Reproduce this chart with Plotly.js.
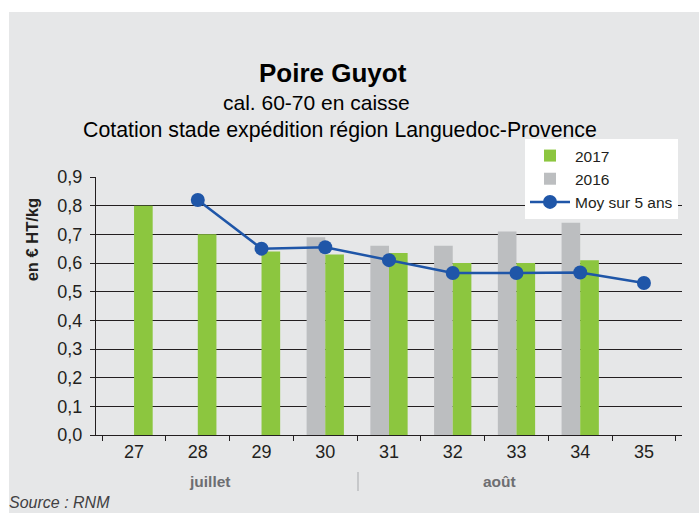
<!DOCTYPE html>
<html>
<head>
<meta charset="utf-8">
<script src="https://cdn.plot.ly/plotly-3.0.1.min.js"></script>
<style>
html,body{margin:0;padding:0;background:#ffffff;}
#bg{position:absolute;left:9px;top:12px;width:690px;height:501px;background:#e6e7e8;}
#chart{position:absolute;left:0;top:0;width:699px;height:513px;}
</style>
</head>
<body>
<div id="bg"></div>
<div id="chart"></div>
<script>
const weeks = ['27','28','29','30','31','32','33','34','35'];
const v2017 = [0.80, 0.70, 0.64, 0.63, 0.635, 0.60, 0.60, 0.61, null];
const v2016 = [null, null, null, 0.69, 0.66, 0.66, 0.71, 0.74, null];
const moy5 = [null, 0.82, 0.65, 0.655, 0.61, 0.565, 0.565, 0.567, 0.53];

const FONT = 'Liberation Sans, Arial, sans-serif';
const DARK = '#231f20';

const traces = [
  {type:'bar', name:'2016', x:weeks, y:v2016, marker:{color:'#bcbec0'}, legendrank:2, hoverinfo:'skip'},
  {type:'bar', name:'2017', x:weeks, y:v2017, marker:{color:'#8cc63f'}, legendrank:1, hoverinfo:'skip'},
  {type:'scatter', mode:'lines+markers', name:'Moy sur 5 ans', x:weeks, y:moy5,
   line:{color:'#1f56a8', width:2.5}, marker:{color:'#1f56a8', size:14}, legendrank:3, connectgaps:false}
];

const layout = {
  width:699, height:513,
  margin:{l:96, r:17, t:177, b:78, pad:0},
  paper_bgcolor:'rgba(0,0,0,0)',
  plot_bgcolor:'rgba(0,0,0,0)',
  separators:',.',
  font:{family:FONT, color:DARK},
  barmode:'group',
  bargap:0.415,
  bargroupgap:0,
  showlegend:true,
  legend:{
    x:(525-96)/586, xanchor:'left', y:(435-139)/258, yanchor:'top',
    bgcolor:'#ffffff', borderwidth:0,
    font:{family:FONT, size:15.5, color:DARK},
    traceorder:'normal', tracegroupgap:0, itemwidth:40
  },
  xaxis:{
    type:'category', categoryorder:'array', categoryarray:weeks,
    showline:true, linecolor:DARK, linewidth:1,
    ticks:'outside', ticklen:5, tickcolor:DARK, tickson:'boundaries',
    showgrid:false, zeroline:false,
    tickfont:{family:FONT, size:18, color:DARK},
    fixedrange:true
  },
  yaxis:{
    range:[0,0.9], dtick:0.1, tick0:0, tickformat:'.1f',
    showline:true, linecolor:DARK, linewidth:1,
    ticks:'outside', ticklen:5, tickcolor:DARK,
    showgrid:true, gridcolor:DARK, gridwidth:1, zeroline:false,
    tickfont:{family:FONT, size:18, color:DARK},
    ticklabelstandoff:4,
    fixedrange:true
  },
  annotations:[
    {text:'<b>Poire Guyot</b>', xref:'paper', yref:'paper', x:0.404, y:1.405, xanchor:'center', yanchor:'middle', showarrow:false, font:{family:FONT, size:26, color:'#000000'}},
    {text:'cal. 60-70 en caisse', xref:'paper', yref:'paper', x:0.377, y:1.29, xanchor:'center', yanchor:'middle', showarrow:false, font:{family:FONT, size:21, color:'#000000'}},
    {text:'Cotation stade expédition région Languedoc-Provence', xref:'paper', yref:'paper', x:0.416, y:1.183, xanchor:'center', yanchor:'middle', showarrow:false, font:{family:FONT, size:21.3, color:'#000000'}},
    {text:'<b>en € HT/kg</b>', xref:'paper', yref:'paper', x:-0.109, y:0.755, xanchor:'center', yanchor:'middle', textangle:-90, showarrow:false, font:{family:FONT, size:16.5, color:DARK}},
    {text:'<b>juillet</b>', xref:'paper', yref:'paper', x:(209-96)/586, y:-(481-435)/258, xanchor:'center', yanchor:'middle', showarrow:false, font:{family:FONT, size:15.5, color:'#6d6e71'}},
    {text:'<b>août</b>', xref:'paper', yref:'paper', x:(499-96)/586, y:-(481-435)/258, xanchor:'center', yanchor:'middle', showarrow:false, font:{family:FONT, size:15.5, color:'#6d6e71'}},
    {text:'<i>Source : RNM</i>', xref:'paper', yref:'paper', x:(7-96)/586, y:-(513-435)/258, xanchor:'left', yanchor:'bottom', showarrow:false, font:{family:FONT, size:16, color:'#414042'}}
  ],
  shapes:[
    {type:'line', xref:'paper', yref:'paper', x0:(358-96)/586, x1:(358-96)/586, y0:-(472-435)/258, y1:-(491-435)/258, line:{color:'#a7a9ac', width:1}}
  ]
};

Plotly.newPlot('chart', traces, layout, {displayModeBar:false, staticPlot:true});
</script>
</body>
</html>
